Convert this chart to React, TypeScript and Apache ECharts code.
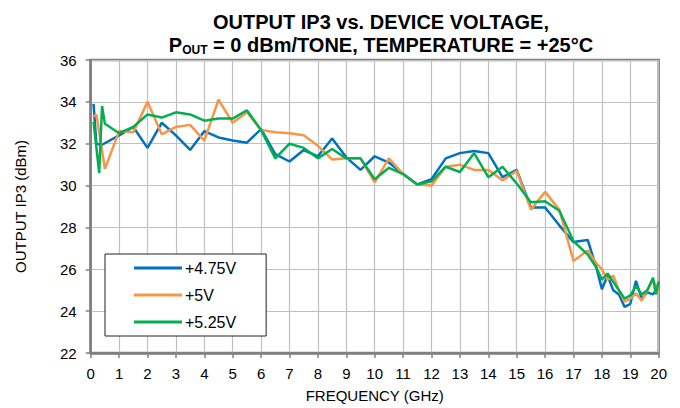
import React, { useEffect, useRef } from "react";
import * as echarts from "echarts";

const freqGHz = [0.1, 0.2, 0.3, 0.4, 0.5, 1, 1.5, 2, 2.5, 3, 3.5, 4, 4.5, 5, 5.5, 6, 6.5, 7, 7.5, 8, 8.5, 9, 9.5, 10, 10.5, 11, 11.5, 12, 12.5, 13, 13.5, 14, 14.5, 15, 15.5, 16, 16.5, 17, 17.5, 17.8, 18, 18.2, 18.4, 18.6, 18.8, 19, 19.2, 19.4, 19.6, 19.8, 19.9, 20];

const ip3_475V = [33.9, 32.0, null, 31.95, null, 32.4, 32.8, 31.8, 33.0, 32.4, 31.7, 32.6, 32.3, 32.15, 32.05, 32.7, 31.5, 31.15, 31.7, 31.4, 32.25, 31.35, 30.75, 31.4, 31.1, 30.55, 30.05, 30.3, 31.3, 31.55, 31.65, 31.55, 30.4, 30.75, 28.95, 28.95, 28.1, 27.3, 27.4, 26.1, 25.05, 25.7, 25.0, 24.8, 24.2, 24.35, 25.45, 24.6, 24.9, 24.8, 25.0, 25.4];

const ip3_5V = [33.3, 33.4, null, null, 30.8, 32.6, 32.55, 34.0, 32.45, 32.8, 32.9, 32.15, 34.1, 33.0, 33.5, 32.65, 32.55, 32.5, 32.4, 31.9, 31.25, 31.3, 31.3, 30.15, 31.3, 30.55, 30.05, 30.0, 30.9, 31.0, 30.75, 30.75, 30.25, 30.7, 28.85, 29.7, 28.85, 26.4, 26.9, 26.3, 26.0, 25.5, 25.7, 25.0, 24.45, 24.6, 24.85, 24.5, 25.0, 25.5, 25.2, 24.9];

const ip3_525V = [33.05, null, 30.6, 33.8, 32.95, 32.5, 32.8, 33.4, 33.25, 33.5, 33.4, 33.1, 33.2, 33.2, 33.6, 32.65, 31.3, 32.0, 31.8, 31.3, 31.75, 31.3, 31.3, 30.3, 30.85, 30.55, 30.05, 30.2, 30.9, 30.65, 31.55, 30.4, 30.9, 30.1, 29.2, 29.25, 28.8, 27.35, 26.7, 26.1, 25.5, 25.8, 25.4, 25.0, 24.6, 24.75, 25.2, 24.8, 25.0, 25.6, 24.8, 25.4];

const seriesNames = ["+4.75V", "+5V", "+5.25V"];
const seriesColors = ["#0070c0", "#f79646", "#00b050"];

const FONT = "'Liberation Sans', Arial, sans-serif";

function toPairs(vals: (number | null)[]) {
  const out: [number, number][] = [];
  vals.forEach((v, i) => {
    if (v !== null) out.push([freqGHz[i], v]);
  });
  return out;
}

export default function App() {
  const ref = useRef<HTMLDivElement>(null);
  useEffect(() => {
    if (!ref.current) return;
    const chart = echarts.init(ref.current, undefined, { renderer: "svg" });
    const allVals = [ip3_475V, ip3_5V, ip3_525V];
    chart.setOption({
      animation: false,
      backgroundColor: "#ffffff",
      textStyle: { fontFamily: FONT },
      title: {
        left: 376,
        textAlign: "center",
        top: 5,
        text: "OUTPUT IP3 vs. DEVICE VOLTAGE,\n{b|P}{s|OUT}{b| = 0 dBm/TONE, TEMPERATURE = +25°C}",
        textStyle: {
          fontFamily: FONT,
          fontSize: 20,
          fontWeight: "bold",
          color: "#000",
          lineHeight: 23,
          rich: {
            b: { fontFamily: FONT, fontSize: 20, fontWeight: "bold", color: "#000", lineHeight: 23 },
            s: { fontFamily: FONT, fontSize: 12, fontWeight: "bold", color: "#000", lineHeight: 23, padding: [11, 0, 0, 0] },
          },
        },
      },
      grid: {
        left: 90.7,
        right: 21.3,
        top: 60,
        bottom: 53.7,
        show: true,
        borderColor: "#808080",
        borderWidth: 2.5,
        backgroundColor: "transparent",
      },
      legend: {
        orient: "vertical",
        left: 105,
        top: 254,
        data: seriesNames,
        icon: "rect",
        itemWidth: 48,
        itemHeight: 3,
        itemGap: 11,
        padding: [6, 30, 6, 29],
        backgroundColor: "#ffffff",
        borderColor: "#222",
        borderWidth: 1,
        borderRadius: 0,
        textStyle: { fontFamily: FONT, fontSize: 16, color: "#000", padding: [0, 0, 0, -2] },
      },
      xAxis: {
        type: "value",
        min: 0,
        max: 20,
        interval: 1,
        name: "FREQUENCY (GHz)",
        nameLocation: "middle",
        nameGap: 35,
        nameTextStyle: { fontFamily: FONT, fontSize: 15, color: "#000" },
        axisLine: { show: true, lineStyle: { color: "#808080", width: 2.5 } },
        axisTick: { show: true, inside: false, length: 5, lineStyle: { color: "#808080", width: 1.5 } },
        axisLabel: { fontFamily: FONT, fontSize: 15, color: "#000", margin: 13 },
        splitLine: { show: true, lineStyle: { color: "#c0c0c0", width: 1.2 } },
      },
      yAxis: {
        type: "value",
        min: 22,
        max: 36,
        interval: 2,
        name: "OUTPUT IP3 (dBm)",
        nameLocation: "middle",
        nameGap: 63,
        nameTextStyle: { fontFamily: FONT, fontSize: 15, color: "#000" },
        axisLine: { show: true, lineStyle: { color: "#808080", width: 2.5 } },
        axisTick: { show: true, inside: false, length: 5, lineStyle: { color: "#808080", width: 1.5 } },
        axisLabel: { fontFamily: FONT, fontSize: 15, color: "#000", margin: 14 },
        splitLine: { show: true, lineStyle: { color: "#c0c0c0", width: 1.2 } },
      },
      series: allVals.map((vals, k) => ({
        type: "line",
        name: seriesNames[k],
        data: toPairs(vals),
        symbol: "none",
        showSymbol: false,
        color: seriesColors[k],
        lineStyle: { color: seriesColors[k], width: 2.5 },
        z: 2 + k,
      })),
    });
    return () => chart.dispose();
  }, []);
  return <div ref={ref} style={{ width: 680, height: 408, position: "absolute", left: 0, top: 0 }} />;
}
